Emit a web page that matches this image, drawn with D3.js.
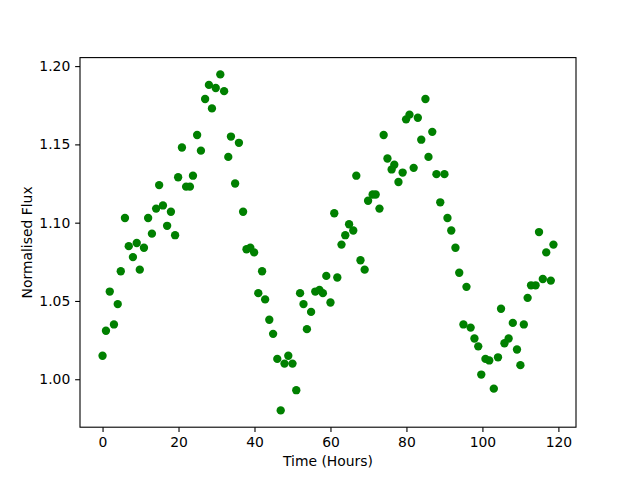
<!DOCTYPE html>
<html>
<head>
<meta charset="utf-8">
<script src="https://cdn.jsdelivr.net/npm/d3@7"></script>
<style>
  html, body { margin: 0; padding: 0; background: #fff; }
  svg { display: block; }
  text { font-family: "DejaVu Sans", sans-serif; }
</style>
</head>
<body>
<svg id="chart" width="640" height="480"></svg>
<script>
const timeHours = [
  0.0, 0.9, 1.9, 3.0, 4.0, 4.8, 5.9, 6.9, 8.0, 9.0,
  9.8, 10.9, 12.0, 13.0, 14.1, 14.9, 15.9, 17.0, 18.0, 19.1,
  19.9, 20.9, 22.0, 23.0, 23.8, 24.9, 25.9, 27.0, 28.0, 28.8,
  29.8, 31.0, 32.0, 33.1, 33.8, 34.9, 35.9, 37.0, 37.9, 38.9,
  39.9, 41.0, 42.0, 42.8, 43.9, 44.9, 46.0, 46.9, 47.9, 48.9,
  50.0, 51.0, 52.0, 52.9, 53.8, 54.9, 56.0, 57.1, 58.0, 58.9,
  60.0, 61.0, 61.8, 62.9, 63.9, 64.9, 66.0, 66.8, 67.9, 69.0,
  69.9, 71.1, 71.9, 72.9, 74.0, 75.0, 76.1, 76.8, 77.9, 79.0,
  79.9, 80.8, 81.9, 83.0, 83.9, 85.0, 85.8, 86.8, 87.9, 88.9,
  90.0, 90.8, 91.8, 92.9, 93.9, 95.0, 95.8, 96.9, 97.9, 98.9,
  99.7, 100.8, 101.8, 103.0, 104.1, 104.9, 105.8, 106.9, 108.0, 109.1,
  110.0, 110.9, 111.9, 112.8, 114.0, 114.9, 115.9, 116.8, 118.0, 118.7
];
const normalisedFlux = [
  1.015, 1.031, 1.056, 1.035, 1.048, 1.069, 1.103, 1.085, 1.078, 1.087,
  1.070, 1.084, 1.103, 1.093, 1.109, 1.124, 1.111, 1.098, 1.107, 1.092,
  1.129, 1.148, 1.123, 1.123, 1.130, 1.156, 1.146, 1.179, 1.188, 1.173,
  1.186, 1.1947, 1.184, 1.142, 1.155, 1.125, 1.151, 1.107, 1.083, 1.084,
  1.081, 1.055, 1.069, 1.051, 1.038, 1.029, 1.013, 0.9801, 1.010, 1.015,
  1.010, 0.993, 1.055, 1.048, 1.032, 1.043, 1.056, 1.057, 1.055, 1.066,
  1.049, 1.106, 1.065, 1.086, 1.092, 1.099, 1.095, 1.130, 1.076, 1.070,
  1.114, 1.118, 1.118, 1.109, 1.156, 1.141, 1.134, 1.137, 1.126, 1.132,
  1.166, 1.169, 1.135, 1.167, 1.153, 1.179, 1.142, 1.158, 1.131, 1.113,
  1.131, 1.103, 1.095, 1.084, 1.068, 1.035, 1.059, 1.033, 1.026, 1.021,
  1.003, 1.013, 1.012, 0.994, 1.014, 1.045, 1.023, 1.026, 1.036, 1.019,
  1.009, 1.035, 1.052, 1.060, 1.060, 1.094, 1.064, 1.081, 1.063, 1.086
];
const xTicks = [0, 20, 40, 60, 80, 100, 120];
const yTicks = [1.00, 1.05, 1.10, 1.15, 1.20];
const xLabel = "Time (Hours)";
const yLabel = "Normalised Flux";

const data = timeHours.map((t, i) => ({ t, f: normalisedFlux[i] }));

const W = 640, H = 480;
const L = 80, R = 576, T = 57.6, B = 427.2;

function padded(ext) {
  const r = ext[1] - ext[0];
  return [ext[0] - 0.05 * r, ext[1] + 0.05 * r];
}

const x = d3.scaleLinear().domain(padded(d3.extent(timeHours))).range([L, R]);
const y = d3.scaleLinear().domain(padded(d3.extent(normalisedFlux))).range([B, T]);

const svg = d3.select("#chart");
svg.append("rect").attr("width", W).attr("height", H).attr("fill", "#fff");

const tickLen = 4.86, tickPad = 4.86, fs = 13.9;

// points
svg.append("g").selectAll("circle").data(data).enter().append("circle")
  .attr("cx", d => x(d.t))
  .attr("cy", d => y(d.f))
  .attr("r", 4.17)
  .attr("fill", "#008000");

// x axis
const xAxis = d3.axisBottom(x).tickValues(xTicks).tickFormat(d3.format("d"))
  .tickSizeInner(tickLen).tickSizeOuter(0).tickPadding(tickPad);
const gx = svg.append("g").attr("transform", `translate(0,${B})`).call(xAxis);
gx.select(".domain").remove();
gx.selectAll("line").attr("stroke", "#000").attr("stroke-width", 1.1);
gx.selectAll("text").attr("font-size", fs).attr("fill", "#000")
  .attr("font-family", "DejaVu Sans, sans-serif");

// y axis
const yAxis = d3.axisLeft(y).tickValues(yTicks).tickFormat(d3.format(".2f"))
  .tickSizeInner(tickLen).tickSizeOuter(0).tickPadding(tickPad);
const gy = svg.append("g").attr("transform", `translate(${L},0)`).call(yAxis);
gy.select(".domain").remove();
gy.selectAll("line").attr("stroke", "#000").attr("stroke-width", 1.1);
gy.selectAll("text").attr("font-size", fs).attr("fill", "#000")
  .attr("font-family", "DejaVu Sans, sans-serif");

// frame
svg.append("rect").attr("x", L).attr("y", T).attr("width", R - L).attr("height", B - T)
  .attr("fill", "none").attr("stroke", "#000").attr("stroke-width", 1.1);

// labels
svg.append("text").attr("x", (L + R) / 2).attr("y", 466)
  .attr("text-anchor", "middle").attr("font-size", fs).attr("fill", "#000")
  .text(xLabel);
svg.append("text")
  .attr("transform", `translate(31.5,${(T + B) / 2}) rotate(-90)`)
  .attr("text-anchor", "middle").attr("font-size", fs).attr("fill", "#000")
  .text(yLabel);
</script>
</body>
</html>
